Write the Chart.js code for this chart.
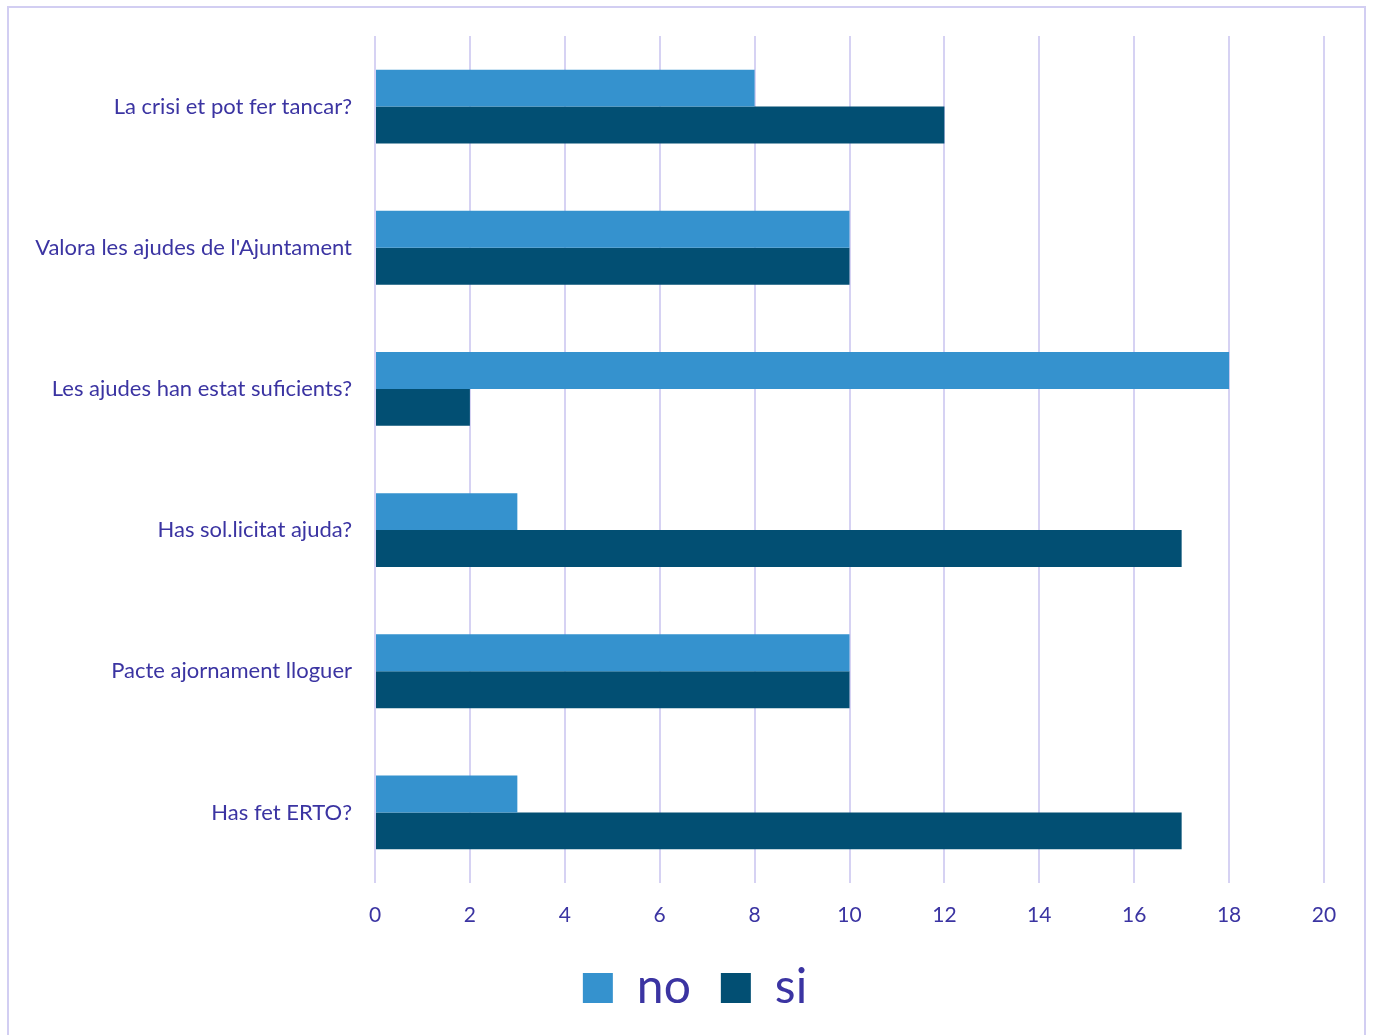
<!DOCTYPE html>
<html>
<head>
<meta charset="utf-8">
<script src="https://cdn.jsdelivr.net/npm/chart.js@4"></script>
<style>
  body { margin: 0; background: #fff; }
  #wrap {
    position: absolute; left: 7px; top: 6px;
    width: 1355px; height: 1040px;
    border: 2px solid #d2cef2;
  }
</style>
</head>
<body>
<div id="wrap"><canvas id="chart"></canvas></div>
<script>
// Survey answers
const categories = [
  'La crisi et pot fer tancar?',
  "Valora les ajudes de l'Ajuntament",
  'Les ajudes han estat suficients?',
  'Has sol.licitat ajuda?',
  'Pacte ajornament lloguer',
  'Has fet ERTO?'
];
const noValues = [8, 10, 18, 3, 10, 3];
const siValues = [12, 10, 2, 17, 10, 17];
const xTicks = [0, 2, 4, 6, 8, 10, 12, 14, 16, 18, 20];

const textColor = '#3b34a2';
const gridColor = '#d6d2f3';
const fontFamily = 'Lato, "Open Sans", sans-serif';

let ctx = document.getElementById('chart').getContext('2d');
let chart = new Chart(ctx, {
    type: 'bar',
    data: {
        labels: categories,
        datasets: [{
            label: 'no',
            data: noValues,
            backgroundColor: '#3592ce',
            borderWidth: 0
        }, {
            label: 'si',
            data: siValues,
            backgroundColor: '#024f73',
            borderWidth: 0
        }]
    },
    options: {
        indexAxis: 'y',
        responsive: true,
        maintainAspectRatio: false,
        animation: false,
        categoryPercentage: 0.523,
        barPercentage: 1,
        layout: { padding: { top: 28, right: 0, bottom: 26, left: 17 } },
        scales: {
            x: {
                min: 0,
                max: 20,
                afterBuildTicks: (scale) => {
                    scale.ticks = xTicks.map(v => ({ value: v }));
                },
                afterFit: (scale) => {
                    scale.height = 51;
                    scale.paddingLeft = 0;
                    scale.paddingRight = 0;
                },
                grid: { color: gridColor, lineWidth: 2, drawTicks: false },
                border: { display: false },
                ticks: {
                    color: textColor,
                    padding: 20,
                    font: { family: fontFamily, size: 21 }
                }
            },
            y: {
                afterFit: (scale) => {
                    scale.width = 349;
                    scale.paddingTop = 0;
                    scale.paddingBottom = 0;
                },
                grid: { display: false },
                border: { display: false },
                ticks: {
                    color: textColor,
                    padding: 15,
                    font: { family: fontFamily, size: 22 }
                }
            },
            // empty right-hand spacer so the legend stays centred on the page
            spacer: {
                type: 'linear',
                axis: 'y',
                position: 'right',
                afterFit: (scale) => {
                    scale.width = 40;
                    scale.paddingTop = 0;
                    scale.paddingBottom = 0;
                },
                grid: { display: false },
                border: { display: false },
                ticks: { display: false }
            }
        },
        plugins: {
            legend: {
                position: 'bottom',
                labels: {
                    color: textColor,
                    boxWidth: 30,
                    boxHeight: 30,
                    padding: 30,
                    font: { family: fontFamily, size: 48 }
                }
            },
            tooltip: { enabled: false }
        }
    }
});
</script>
</body>
</html>
